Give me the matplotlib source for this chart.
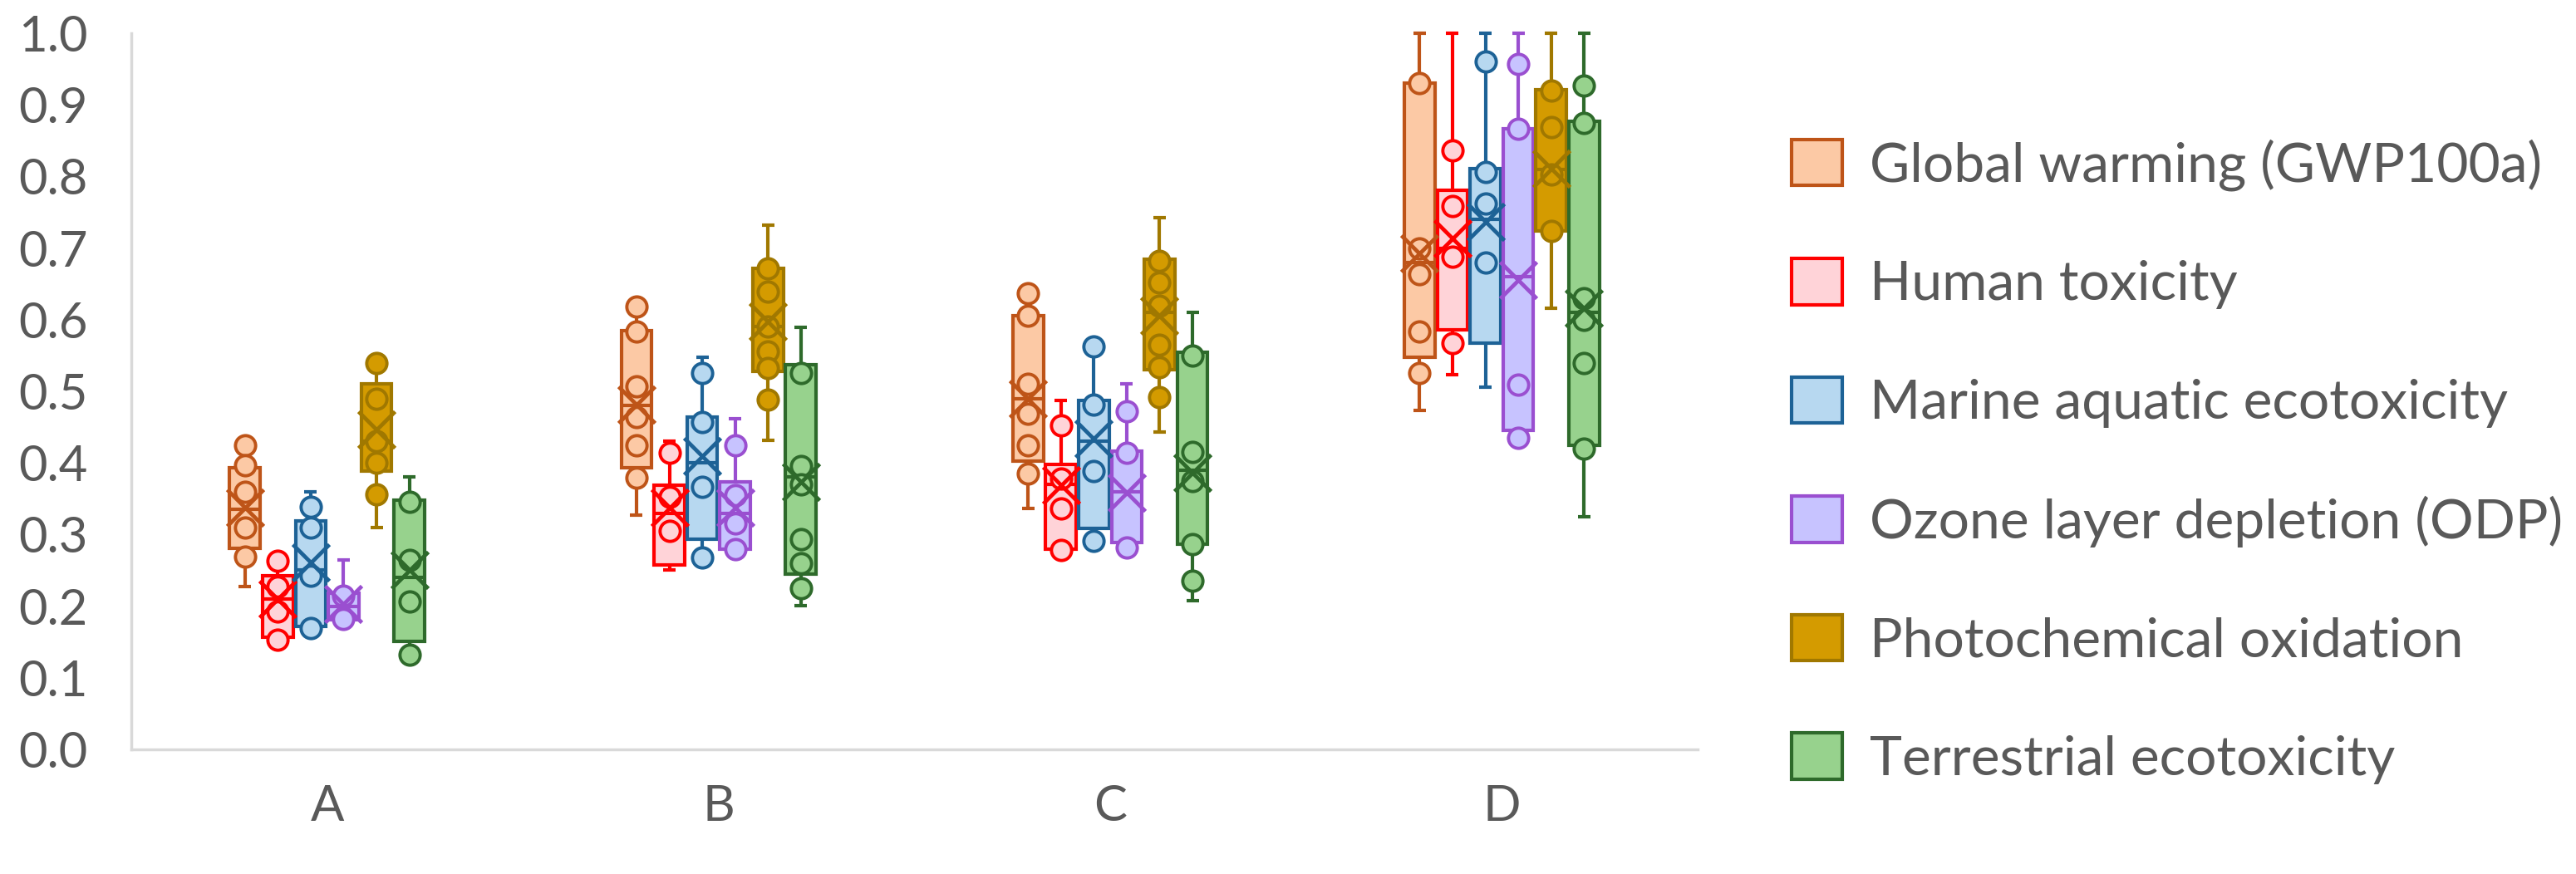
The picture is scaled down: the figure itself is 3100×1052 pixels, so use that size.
import numpy as np
import matplotlib.pyplot as plt
from matplotlib.patches import Patch

plt.rcParams['font.family'] = ['Lato', 'DejaVu Sans']

# categorías y series
categories = ['A', 'B', 'C', 'D']
series = ['Global warming (GWP100a)', 'Human toxicity', 'Marine aquatic ecotoxicity',
          'Ozone layer depletion (ODP)', 'Photochemical oxidation', 'Terrestrial ecotoxicity']

# estadísticos (fila = serie, columna = categoría A-D)
whisk_lo = [[0.227, 0.327, 0.336, 0.473],
            [0.150, 0.250, 0.278, 0.523],
            [0.169, 0.265, 0.291, 0.506],
            [0.180, 0.279, 0.282, 0.435],
            [0.310, 0.431, 0.443, 0.616],
            [0.130, 0.201, 0.208, 0.325]]
q1 = [[0.281, 0.393, 0.403, 0.548],
      [0.157, 0.258, 0.280, 0.586],
      [0.172, 0.294, 0.309, 0.567],
      [0.181, 0.280, 0.289, 0.446],
      [0.389, 0.528, 0.530, 0.724],
      [0.151, 0.245, 0.287, 0.424]]
median = [[0.335, 0.480, 0.490, 0.680],
          [0.210, 0.330, 0.370, 0.700],
          [0.250, 0.400, 0.430, 0.740],
          [0.200, 0.330, 0.360, 0.660],
          [0.430, 0.590, 0.610, 0.810],
          [0.240, 0.380, 0.390, 0.610]]
q3 = [[0.393, 0.585, 0.605, 0.930],
      [0.242, 0.369, 0.398, 0.781],
      [0.319, 0.464, 0.487, 0.811],
      [0.218, 0.374, 0.416, 0.867],
      [0.510, 0.672, 0.684, 0.921],
      [0.348, 0.537, 0.554, 0.877]]
whisk_hi = [[0.424, 0.618, 0.637, 1.0],
            [0.270, 0.430, 0.487, 1.0],
            [0.360, 0.547, 0.563, 1.0],
            [0.265, 0.462, 0.510, 1.0],
            [0.545, 0.732, 0.742, 1.0],
            [0.381, 0.589, 0.610, 1.0]]
mean = [[0.338, 0.481, 0.489, 0.693],
        [0.210, 0.338, 0.369, 0.713],
        [0.261, 0.410, 0.434, 0.737],
        [0.203, 0.337, 0.358, 0.655],
        [0.447, 0.597, 0.606, 0.811],
        [0.251, 0.373, 0.386, 0.616]]

# puntos interiores (círculos)
points = [
    [[0.424, 0.397, 0.360, 0.310, 0.269], [0.618, 0.583, 0.507, 0.464, 0.424, 0.379],
     [0.637, 0.606, 0.510, 0.469, 0.425, 0.385], [0.930, 0.700, 0.663, 0.583, 0.526]],
    [[0.263, 0.227, 0.192, 0.153], [0.414, 0.353, 0.305],
     [0.452, 0.378, 0.336, 0.278], [0.836, 0.759, 0.688, 0.567]],
    [[0.339, 0.310, 0.242, 0.169], [0.526, 0.457, 0.367, 0.268],
     [0.563, 0.481, 0.389, 0.291], [0.960, 0.806, 0.762, 0.680]],
    [[0.215, 0.182], [0.424, 0.355, 0.315, 0.279],
     [0.472, 0.414, 0.282], [0.957, 0.867, 0.509, 0.435]],
    [[0.540, 0.490, 0.430, 0.400, 0.356], [0.672, 0.639, 0.590, 0.556, 0.533, 0.488],
     [0.682, 0.652, 0.620, 0.565, 0.534, 0.492], [0.920, 0.869, 0.803, 0.724]],
    [[0.346, 0.265, 0.207, 0.132], [0.526, 0.396, 0.370, 0.294, 0.260, 0.225],
     [0.550, 0.415, 0.375, 0.287, 0.235], [0.927, 0.875, 0.630, 0.600, 0.539, 0.420]],
]

edges = ['#BE5418', '#FF0000', '#1D6296', '#9A4FD0', '#A07800', '#2E6A2B']
fills = ['#FCC9A5', '#FFD3D8', '#B7D8F0', '#C7C3FF', '#D49B00', '#97D28D']

fig = plt.figure(figsize=(31, 10.52), dpi=100)
ax = fig.add_axes([0.051, 0.1426, 0.608, 0.8194])

xc = np.arange(len(categories))
step = 0.084
bw = 0.078
cap = 0.016
lw = 3.0

for i in range(len(series)):
    x = xc + (i - 2.5) * step
    lo = np.array(whisk_lo[i]); hi = np.array(whisk_hi[i])
    b1 = np.array(q1[i]); b3 = np.array(q3[i])
    ax.bar(x, b3 - b1, bottom=b1, width=bw, color=fills[i], edgecolor=edges[i],
           linewidth=lw, zorder=2)
    ax.vlines(x, b3, hi, color=edges[i], lw=lw, zorder=1, clip_on=False)
    ax.vlines(x, lo, b1, color=edges[i], lw=lw, zorder=1, clip_on=False)
    ax.hlines(hi, x - cap, x + cap, color=edges[i], lw=lw, zorder=1, clip_on=False)
    ax.hlines(lo, x - cap, x + cap, color=edges[i], lw=lw, zorder=1, clip_on=False)
    ax.hlines(median[i], x - bw / 2, x + bw / 2, color=edges[i], lw=lw, zorder=3)
    for j in range(len(categories)):
        pts = points[i][j]
        ax.plot([x[j]] * len(pts), pts, 'o', ms=17.5, mfc=fills[i], mec=edges[i],
                mew=2.8, zorder=4, clip_on=False)
    ax.plot(x, mean[i], 'x', ms=32, mew=3.4, color=edges[i], zorder=5, linestyle='none')

ax.set_xlim(-0.5, 3.5)
ax.set_ylim(0, 1.0)
ax.set_yticks(np.arange(0, 1.01, 0.1))
ax.set_yticklabels([f'{v:.1f}' for v in np.arange(0, 1.01, 0.1)])
ax.set_xticks(xc)
ax.set_xticklabels(categories)
ax.tick_params(axis='y', length=0, pad=38, labelsize=43, labelcolor='#595959')
ax.tick_params(axis='x', length=0, pad=30, labelsize=43, labelcolor='#595959')
for s in ['top', 'right']:
    ax.spines[s].set_visible(False)
for s in ['left', 'bottom']:
    ax.spines[s].set_color('#D9D9D9')
    ax.spines[s].set_linewidth(2.5)

handles = [Patch(facecolor=fills[i], edgecolor=edges[i], linewidth=lw) for i in range(len(series))]
fig.legend(handles, series, loc='center left', bbox_to_anchor=(0.6955, 0.472),
           frameon=False, fontsize=47.5, handlelength=0.92, handleheight=0.92,
           handletextpad=0.5, labelspacing=1.23, borderpad=0, borderaxespad=0,
           labelcolor='#595959')

fig.savefig('out.png', dpi=100)
